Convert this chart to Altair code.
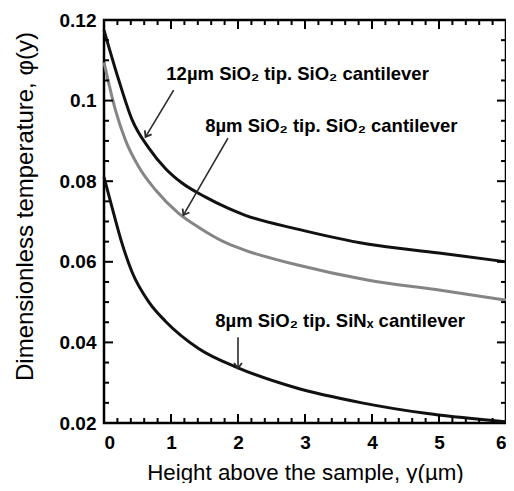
import altair as alt
import pandas as pd

# ---- data ----
x_12 = [0.0, 0.22, 0.42, 0.67, 0.92, 1.16, 1.51, 1.85, 2.1, 2.89, 3.93, 5.0, 6.0]
y_12 = [0.1175, 0.1051, 0.0952, 0.0882, 0.0831, 0.0796, 0.0761, 0.0733, 0.0716, 0.0681, 0.0644, 0.0622, 0.0600]

x_8 = [0.0, 0.17, 0.32, 0.52, 0.77, 1.11, 1.41, 1.85, 2.1, 2.89, 3.93, 5.0, 6.0]
y_8 = [0.1095, 0.0977, 0.0902, 0.0835, 0.0778, 0.0721, 0.0686, 0.0645, 0.0629, 0.0592, 0.0555, 0.0530, 0.0505]

x_sin = [0.0, 0.12, 0.27, 0.42, 0.67, 0.92, 1.41, 2.0, 2.85, 3.85, 4.8, 5.8, 6.0]
y_sin = [0.0810, 0.0735, 0.0645, 0.0574, 0.0500, 0.0452, 0.0385, 0.0337, 0.0288, 0.0250, 0.0224, 0.0206, 0.0203]

series_names = ["12um SiO2/SiO2", "8um SiO2/SiO2", "8um SiO2/SiNx"]
series_colors = ["#111111", "#858585", "#111111"]

x_domain = [0, 6]
y_domain = [0.02, 0.12]

x_labels = [0, 1, 2, 3, 4, 5, 6]
y_labels = [0.02, 0.04, 0.06, 0.08, 0.10, 0.12]
x_major = [1, 2, 3, 4, 5]
y_major = [0.04, 0.06, 0.08, 0.10]
x_minor = [round(0.2 * i, 1) for i in range(1, 30) if i % 5 != 0]
y_minor = [round(0.02 + 0.005 * i, 3) for i in range(1, 20) if i % 4 != 0]

notes = ["12\u00b5m SiO\u2082 tip. SiO\u2082 cantilever",
         "8\u00b5m SiO\u2082 tip. SiO\u2082 cantilever",
         "8\u00b5m SiO\u2082 tip. SiN\u2093 cantilever"]
note_x = [0.93, 1.51, 1.66]
note_y = [0.1051, 0.0922, 0.0439]

arrow_x = [1.04, 1.85, 2.0]
arrow_y = [0.1026, 0.0907, 0.0413]
arrow_x2 = [0.62, 1.185, 2.0]
arrow_y2 = [0.0910, 0.0716, 0.0336]
arrow_angle = [121, 120, 90]

# ---- build tables ----
rows = []
for name, xs, ys in zip(series_names, [x_12, x_8, x_sin], [y_12, y_8, y_sin]):
    for a, b in zip(xs, ys):
        rows.append({"series": name, "h": a, "phi": b})
df = pd.DataFrame(rows)

W, H = 402, 403
FONT = "Liberation Sans"
MAJ, MIN = 9, 5

# tick segments (inward), expressed through the same scales as the data
px_x = (x_domain[1] - x_domain[0]) / W
px_y = (y_domain[1] - y_domain[0]) / H
trows = []
for vals, length in [(x_major, MAJ), (x_minor, MIN)]:
    for v in vals:
        trows.append({"x": v, "x2": v, "y": y_domain[0], "y2": y_domain[0] + length * px_y})
        trows.append({"x": v, "x2": v, "y": y_domain[1], "y2": y_domain[1] - length * px_y})
for vals, length in [(y_major, MAJ), (y_minor, MIN)]:
    for v in vals:
        trows.append({"x": x_domain[0], "x2": x_domain[0] + length * px_x, "y": v, "y2": v})
        trows.append({"x": x_domain[1], "x2": x_domain[1] - length * px_x, "y": v, "y2": v})
tdf = pd.DataFrame(trows)

xscale = alt.Scale(domain=x_domain, nice=False, zero=False)
yscale = alt.Scale(domain=y_domain, nice=False, zero=False)

XAX = alt.Axis(
    values=x_labels, format="d", title="Height above the sample, y(\u00b5m)",
    domain=False, ticks=False, grid=False, labelPadding=10,
    labelFont=FONT, labelFontSize=19, labelFontWeight="bold", labelColor="black",
    titleFont=FONT, titleFontSize=22.3, titleFontWeight="normal", titleColor="black",
    titleBaseline="alphabetic", titleY=56)
YAX = alt.Axis(
    values=y_labels, format=".2~f", title="Dimensionless temperature, \u03c6(y)",
    domain=False, ticks=False, grid=False, labelPadding=8,
    labelFont=FONT, labelFontSize=19, labelFontWeight="bold", labelColor="black",
    titleFont=FONT, titleFontSize=24, titleFontWeight="normal", titleColor="black",
    titleAngle=270, titleAlign="center", titleBaseline="alphabetic",
    titleX=-72, titleY=186)


def xenc(field):
    return alt.X(field, scale=xscale, axis=XAX)


def yenc(field):
    return alt.Y(field, scale=yscale, axis=YAX)


lines = alt.Chart(df).mark_line(strokeWidth=3, interpolate="monotone").encode(
    x=xenc("h:Q"),
    y=yenc("phi:Q"),
    color=alt.Color("series:N", scale=alt.Scale(domain=series_names, range=series_colors), legend=None),
)

ticks = alt.Chart(tdf).mark_rule(color="black", strokeWidth=2).encode(
    x=xenc("x:Q"), y=yenc("y:Q"), x2="x2:Q", y2="y2:Q")

adf = pd.DataFrame({"x": arrow_x, "y": arrow_y, "x2": arrow_x2, "y2": arrow_y2, "angle": arrow_angle})
shafts = alt.Chart(adf).mark_rule(color="#2a2a2a", strokeWidth=1.6).encode(
    x=xenc("x:Q"), y=yenc("y:Q"), x2="x2:Q", y2="y2:Q")
heads = alt.Chart(adf).mark_point(
    shape="M-1,-0.75L0,0L-1,0.75", filled=False, color="#2a2a2a", strokeWidth=1.8, size=110, opacity=1
).encode(
    x=xenc("x2:Q"), y=yenc("y2:Q"),
    angle=alt.Angle("angle:Q", scale=None))

ndf = pd.DataFrame({"x": note_x, "y": note_y, "t": notes})
texts = alt.Chart(ndf).mark_text(
    align="left", baseline="alphabetic", font=FONT, fontSize=18.5, fontWeight="bold", color="black"
).encode(x=xenc("x:Q"), y=yenc("y:Q"), text="t:N")

chart = alt.layer(lines, ticks, shafts, heads, texts).properties(
    width=W, height=H,
    autosize=alt.AutoSizeParams(type="none"),
    padding={"left": 96, "top": 12, "right": 0, "bottom": 60},
    background="white",
).configure_view(stroke="black", strokeWidth=2.5)

chart.save("out.html", embed_options={"renderer": "svg", "actions": False})
